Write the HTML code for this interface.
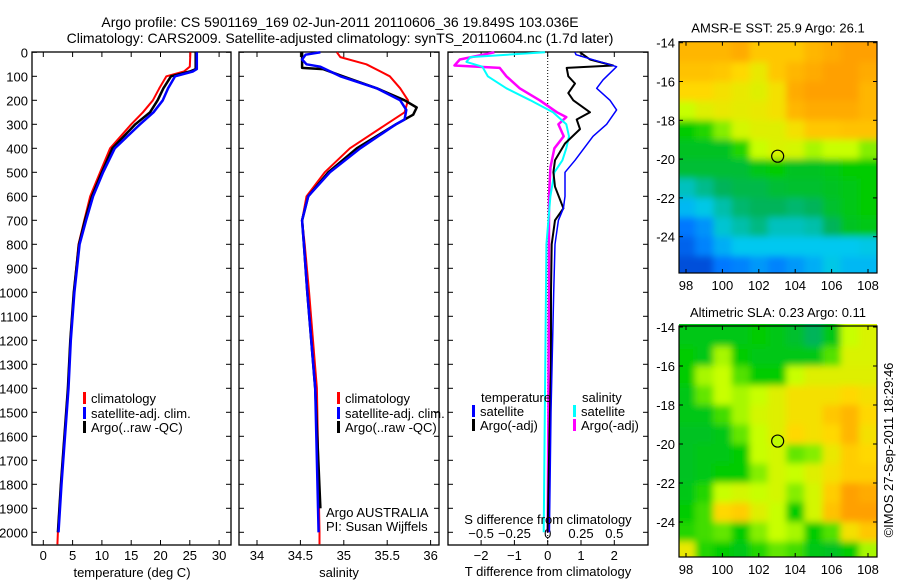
<!DOCTYPE html>
<html><head><meta charset="utf-8"><style>
body{margin:0;background:#fff;width:900px;height:580px;overflow:hidden}
svg{font-family:"Liberation Sans",sans-serif;font-size:13px}
</style></head><body>
<svg id="c" width="900" height="580" xmlns="http://www.w3.org/2000/svg">
<defs>
<filter id="bl" x="-5%" y="-5%" width="110%" height="110%"><feGaussianBlur stdDeviation="3.5"/></filter>
<clipPath id="m1c"><rect x="679" y="42" width="198" height="231"/></clipPath>
<clipPath id="m2c"><rect x="679" y="324" width="198" height="233"/></clipPath>
</defs>
<text x="340" y="27" text-anchor="middle" font-size="14">Argo profile: CS 5901169_169 02-Jun-2011 20110606_36 19.849S 103.036E</text>
<text x="340" y="43" text-anchor="middle" font-size="14">Climatology: CARS2009. Satellite-adjusted climatology: synTS_20110604.nc (1.7d later)</text>
<g id="g"></g>
</svg>
<script>
// ---------- data ----------
const depthTicks=[0,100,200,300,400,500,600,700,800,900,1000,1100,1200,1300,1400,1500,1600,1700,1800,1900,2000];
const tempTicks=[0,5,10,15,20,25,30];
const salTicks=[34,34.5,35,35.5,36];
const dTTicks=[-2,-1,0,1,2];
const dSTicks=[-0.5,-0.25,0,0.25,0.5];
const dSTickLabels=["-0.5","-0.25","0","0.25","0.5"];

const tClimD=[0,60,80,100,150,200,250,300,400,500,600,700,800,1000,1200,1400,1600,1800,2000,2050];
const tClimV=[25.1,25.0,24.0,21.0,19.8,18.7,17.0,15.0,11.4,9.7,8.0,7.0,6.0,5.2,4.6,4.2,3.6,3.0,2.5,2.4];
const tSatD=[0,70,80,100,150,200,250,300,400,500,600,700,800,1000,1200,1400,1600,1800,2000];
const tSatV=[26.2,26.2,25.5,22.5,21.3,20.4,18.8,16.5,12.2,10.2,8.5,7.3,6.2,5.3,4.7,4.3,3.7,3.1,2.6];
const tArgoD=[0,70,80,100,150,200,250,300,400,500,600,700,800,1000,1200,1400,1600,1800,2000];
const tArgoV=[26.0,26.0,25.0,21.8,20.5,19.5,18.2,15.7,11.8,10.0,8.3,7.1,6.1,5.2,4.6,4.2,3.6,3.0,2.5];

const sClimD=[0,20,50,100,150,200,250,300,400,500,600,700,800,1000,1400,2000,2050];
const sClimV=[34.92,34.96,35.26,35.53,35.65,35.74,35.70,35.49,35.07,34.78,34.57,34.52,34.55,34.60,34.69,34.72,34.72];
const sSatD=[0,10,30,50,60,100,150,200,240,280,300,400,500,600,700,800,1000,1400,2000];
const sSatV=[34.73,34.56,34.52,34.57,34.73,34.96,35.38,35.65,35.72,35.70,35.60,35.19,34.84,34.59,34.52,34.54,34.58,34.67,34.71];
const sArgoD=[0,65,70,100,150,200,230,260,300,400,500,600,700,800,1000,1400,1900];
const sArgoV=[34.52,34.52,34.76,34.99,35.38,35.70,35.84,35.80,35.60,35.15,34.82,34.59,34.52,34.54,34.58,34.67,34.73];

const dTSatD=[0,10,60,115,150,200,240,300,350,450,500,600,650,700,800,1000,1500,2000];
const dTSatV=[0.82,0.85,2.07,1.66,1.47,1.87,2.07,1.77,1.36,0.82,0.52,0.52,0.47,0.32,0.22,0.18,0.10,0.05];
const dTArgoD=[0,30,55,65,100,130,170,200,250,280,320,380,450,500,560,650,700,800,1000,1300,1600,2000];
const dTArgoV=[0.97,1.27,1.96,0.57,0.62,0.82,0.62,0.77,1.27,0.87,0.97,0.52,0.22,0.17,0.22,0.47,0.22,0.12,0.10,0.10,0.05,0.0];
const dSArgoD=[0,30,55,65,100,150,200,250,270,300,350,400,480,600,1000,2000];
const dSArgoV=[-0.40,-0.66,-0.70,-0.36,-0.31,-0.21,-0.06,0.07,0.14,0.08,0.12,0.05,0.02,0.01,0.01,0.0];
const dSSatD=[0,20,40,60,100,150,200,250,300,350,400,450,500,600,800,2000];
const dSSatV=[-0.02,-0.58,-0.61,-0.49,-0.45,-0.31,-0.13,0.04,0.14,0.16,0.14,0.11,0.05,0.02,-0.01,-0.03];

const lonTicks=[98,100,102,104,106,108];
const latTicks=[-14,-16,-18,-20,-22,-24];
const gridLons=[98,99,100,101,102,103,104,105,106,107,108];
const gridLats=[-14.5,-15.5,-16.5,-17.5,-18.5,-19.5,-20.5,-21.5,-22.5,-23.5,-24.5,-25.5];
const sstGrid=[
[.88,.88,.88,.9,.85,.85,.85,.88,.9,.92,.92],
[.86,.86,.85,.82,.78,.85,.88,.9,.92,.92,.9],
[.82,.82,.8,.78,.76,.8,.9,.92,.92,.92,.88],
[.72,.76,.78,.77,.78,.8,.88,.9,.9,.9,.88],
[.6,.62,.68,.74,.76,.76,.8,.85,.85,.86,.86],
[.56,.56,.56,.62,.72,.75,.74,.7,.72,.72,.68],
[.54,.54,.54,.54,.58,.6,.56,.56,.58,.6,.6],
[.4,.45,.5,.52,.52,.54,.55,.55,.56,.58,.6],
[.32,.36,.42,.48,.5,.5,.48,.5,.55,.58,.6],
[.2,.25,.38,.42,.46,.4,.4,.42,.5,.56,.58],
[.15,.22,.3,.35,.35,.35,.35,.35,.35,.35,.36],
[.1,.1,.2,.22,.26,.22,.26,.3,.36,.32,.32]];
const slaGrid=[
[.58,.58,.58,.58,.6,.58,.55,.5,.58,.72,.75],
[.6,.58,.7,.6,.58,.58,.58,.58,.65,.75,.75],
[.6,.7,.72,.65,.6,.6,.72,.76,.76,.76,.76],
[.58,.66,.72,.7,.72,.76,.8,.8,.8,.82,.8],
[.58,.58,.64,.7,.74,.76,.8,.8,.85,.88,.82],
[.56,.56,.58,.66,.72,.76,.82,.8,.82,.88,.8],
[.56,.58,.58,.6,.72,.74,.66,.68,.78,.84,.82],
[.56,.58,.6,.6,.68,.74,.72,.76,.8,.84,.84],
[.58,.62,.72,.74,.72,.74,.68,.74,.84,.92,.9],
[.6,.64,.82,.84,.76,.72,.6,.74,.86,.92,.92],
[.62,.64,.66,.6,.68,.72,.7,.6,.65,.8,.85],
[.78,.62,.6,.58,.62,.66,.64,.58,.56,.6,.7]];
const floatLon=103.036, floatLat=-19.849;

// ---------- helpers ----------
const NS="http://www.w3.org/2000/svg";
const G=document.getElementById('g');
function el(tag,attrs,parent){const e=document.createElementNS(NS,tag);for(const k in attrs)e.setAttribute(k,attrs[k]);(parent||G).appendChild(e);return e;}
function txt(x,y,s,anchor,parent){const t=el('text',{x:x,y:y,'text-anchor':anchor||'middle'},parent);t.textContent=s;return t;}
const yD=d=>52.3+0.24*d;
const PT={x0:32,x1:231}, PS={x0:239,x1:439}, PD={x0:448,x1:648};
const yTop=52, yBot=545;
const xT=v=>43.3+5.86*v;
const xS=v=>257+86.8*(v-34);
const xDT=v=>547.7+33.3*v;
const xDS=v=>547.7+133.2*v;

function frame(p,name){
  const r=el('rect',{x:p.x0,y:yTop,width:p.x1-p.x0,height:yBot-yTop,fill:'none',stroke:'#000','stroke-width':1.3});
  
  
}
function line(D,V,fx,color,w,name){
  const pts=D.map((d,i)=>fx(V[i]).toFixed(1)+','+yD(d).toFixed(1)).join(' ');
  const p=el('polyline',{points:pts,fill:'none',stroke:color,'stroke-width':w,'stroke-linejoin':'round'});
  
  
}
function xticks(p,ticks,fx,labels,ly){
  ticks.forEach((t,i)=>{const x=fx(t);
    el('line',{x1:x,x2:x,y1:yBot,y2:yBot-5,stroke:'#000'});
    el('line',{x1:x,x2:x,y1:yTop,y2:yTop+5,stroke:'#000'});
    const l=txt(x,ly,labels?labels[i]:String(t));
    
    
  });
}
function legendEntry(x,y,color,label){
  el('rect',{x:x,y:y-11,width:3,height:12,fill:color});
  const t=txt(x+8,y,label,'start');
  
  
}

// ---------- panel 1: temperature ----------
frame(PT,'temperature-panel');
depthTicks.forEach(d=>{const y=yD(d);
  el('line',{x1:PT.x0,x2:PT.x0+5,y1:y,y2:y,stroke:'#000'});
  el('line',{x1:PT.x1,x2:PT.x1-5,y1:y,y2:y,stroke:'#000'});
  const l=txt(28,y+5,String(d),'end');
  
  
});
xticks(PT,tempTicks,xT,null,560);
{const t=txt(132,577,'temperature (deg C)');}
line(tClimD,tClimV,xT,'#f00',2,'temp-climatology-line');
line(tArgoD,tArgoV,xT,'#000',2.5,'temp-argo-line');
line(tSatD,tSatV,xT,'#00f',2.5,'temp-satellite-line');
legendEntry(83,403,'#f00','climatology');
legendEntry(83,418,'#00f','satellite-adj. clim.');
legendEntry(83,432,'#000','Argo(..raw -QC)');

// ---------- panel 2: salinity ----------
frame(PS,'salinity-panel');
depthTicks.forEach(d=>{const y=yD(d);
  el('line',{x1:PS.x0,x2:PS.x0+5,y1:y,y2:y,stroke:'#000'});
  el('line',{x1:PS.x1,x2:PS.x1-5,y1:y,y2:y,stroke:'#000'});
});
xticks(PS,salTicks,xS,null,560);
{const t=txt(339,577,'salinity');}
line(sClimD,sClimV,xS,'#f00',2,'sal-climatology-line');
line(sArgoD,sArgoV,xS,'#000',2.5,'sal-argo-line');
line(sSatD,sSatV,xS,'#00f',2.5,'sal-satellite-line');
legendEntry(337,403,'#f00','climatology');
legendEntry(337,418,'#00f','satellite-adj. clim.');
legendEntry(337,432,'#000','Argo(..raw -QC)');
{const t=txt(326,517,'Argo AUSTRALIA','start');
 const t2=txt(326,531,'PI: Susan Wijffels','start');}

// ---------- panel 3: differences ----------
frame(PD,'difference-panel');
depthTicks.forEach(d=>{const y=yD(d);
  el('line',{x1:PD.x0,x2:PD.x0+5,y1:y,y2:y,stroke:'#000'});
  el('line',{x1:PD.x1,x2:PD.x1-5,y1:y,y2:y,stroke:'#000'});
});
dTTicks.forEach(t=>{const x=xDT(t);
  el('line',{x1:x,x2:x,y1:yBot,y2:yBot-5,stroke:'#000'});
  el('line',{x1:x,x2:x,y1:yTop,y2:yTop+5,stroke:'#000'});
  const l=txt(x,560,String(t).replace('-','\u2212'));});
dSTicks.forEach((t,i)=>{const l=txt(xDS(t),538,dSTickLabels[i].replace('-','\u2212'));});
el('line',{x1:xDT(0),x2:xDT(0),y1:yTop,y2:yBot,stroke:'#000','stroke-dasharray':'1,2'});
line(dSArgoD,dSArgoV,xDS,'#f0f',2.5,'ds-argo-line');
line(dSSatD,dSSatV,xDS,'#0ff',2,'ds-satellite-line');
line(dTArgoD,dTArgoV,xDT,'#000',2,'dt-argo-line');
line(dTSatD,dTSatV,xDT,'#00f',1.5,'dt-satellite-line');
{const a=txt(481,402,'temperature','start');
 const b=txt(582,402,'salinity','start');}
legendEntry(472,416,'#00f','satellite');
legendEntry(472,430,'#000','Argo(-adj)');
legendEntry(573,416,'#0ff','satellite');
legendEntry(573,430,'#f0f','Argo(-adj)');
{const t=txt(548,524,'S difference from climatology');
 const t2=txt(548,576,'T difference from climatology');}

// ---------- maps ----------
const stops=[[0,[0,40,180]],[0.2,[0,120,255]],[0.35,[0,200,240]],[0.5,[0,180,90]],[0.6,[0,204,0]],[0.72,[200,255,0]],[0.82,[255,216,0]],[0.92,[255,160,0]],[1,[224,112,0]]];
function cmap(v){for(let i=1;i<stops.length;i++){if(v<=stops[i][0]){const a=stops[i-1],b=stops[i],f=(v-a[0])/(b[0]-a[0]);return 'rgb('+a[1].map((c,k)=>Math.round(c+f*(b[1][k]-c))).join(',')+')';}}return 'rgb(224,112,0)';}
function map(grid,y0,ppl,clip,title,name,circleFill){
  const fx=lon=>686+18.2*(lon-98);
  const fy=lat=>y0+ppl*(-14-lat);
  const g=el('g',{'clip-path':'url(#'+clip+')'});
  
  
  const gb=el('g',{filter:'url(#bl)'},g);
  grid.forEach((row,r)=>row.forEach((v,c)=>{
    const cell=el('rect',{x:fx(gridLons[c]-0.5)-(c==0?10:0),y:fy(gridLats[r]+0.5)-(r==0?10:0),width:18.8+(c==0||c==row.length-1?10:0),height:ppl+0.8+(r==0||r==grid.length-1?10:0),fill:cmap(v)},gb);
    
    
  }));
  const fy0=fy(-14)-1, fy1=clip=='m1c'?273:557;
  el('rect',{x:679,y:fy0,width:198,height:fy1-fy0,fill:'none',stroke:'#000','stroke-width':1.2});
  lonTicks.forEach(l=>{const x=fx(l);el('line',{x1:x,x2:x,y1:fy0,y2:fy0+4,stroke:'#000'});el('line',{x1:x,x2:x,y1:fy1,y2:fy1-4,stroke:'#000'});
    const t=txt(x,fy1+17,String(l));});
  latTicks.forEach(l=>{const y=fy(l);el('line',{x1:679,x2:683,y1:y,y2:y,stroke:'#000'});el('line',{x1:877,x2:873,y1:y,y2:y,stroke:'#000'});
    const t=txt(675,y+5,String(l),'end');});
  const c=el('circle',{cx:fx(floatLon),cy:fy(floatLat),r:6,fill:circleFill,stroke:'#000','stroke-width':1.2});
  
  
  const t=txt(778,fy0-9,title);
}
map(sstGrid,42.7,19.4,'m1c','AMSR-E SST: 25.9 Argo: 26.1','sst-map','none');
map(slaGrid,327,19.5,'m2c','Altimetric SLA: 0.23 Argo: 0.11','sla-map','rgb(190,250,0)');
{const t=txt(0,0,'\u00a9IMOS 27-Sep-2011 18:29:46');t.setAttribute('transform','translate(893,450) rotate(-90)');
 }
</script>
</body></html>
